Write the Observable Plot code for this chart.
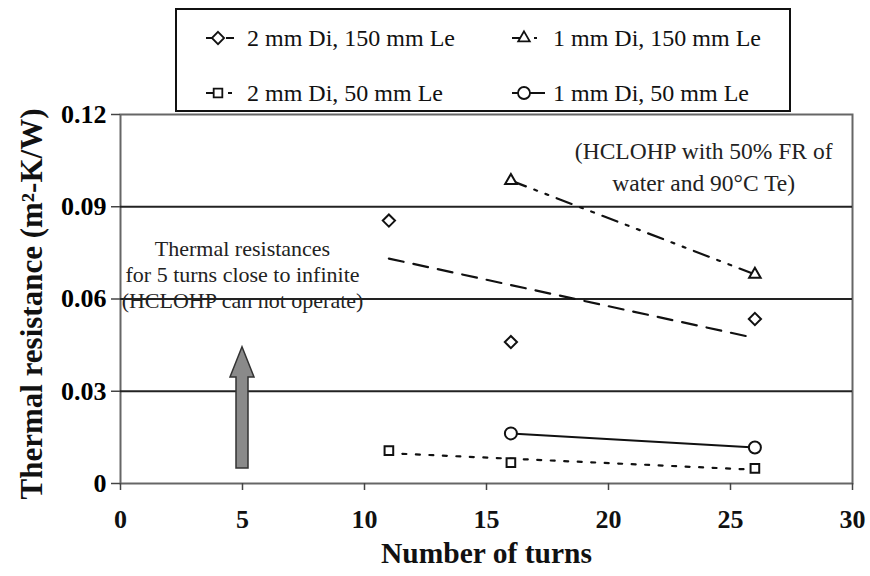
<!DOCTYPE html>
<html>
<head>
<meta charset="utf-8">
<script src="https://cdn.jsdelivr.net/npm/d3@7"></script>
<script src="https://cdn.jsdelivr.net/npm/@observablehq/plot@0.6"></script>
<style>
  html, body { margin: 0; padding: 0; background: #fff; }
  #wrap { position: relative; width: 870px; height: 576px; font-family: "Liberation Serif", "Times New Roman", serif; }
  #legend { position: absolute; left: 175px; top: 8px; width: 612px; height: 100px; border: 2px solid #111; background: #fff; }
  .item { position: absolute; display: flex; align-items: center; font-size: 24px; line-height: 28px; color: #111; white-space: nowrap; }
  .item svg { margin-right: 6px; }
</style>
</head>
<body>
<div id="wrap"><div id="legend"></div></div>
<script>
// ---- data ----
const seriesNames = ["2 mm Di, 150 mm Le", "1 mm Di, 150 mm Le", "2 mm Di, 50 mm Le", "1 mm Di, 50 mm Le"];
const turnsA = [11, 16, 26];          // 2 mm Di, 150 mm Le
const resA   = [0.0855, 0.046, 0.0535];
const turnsB = [16, 26];              // 1 mm Di, 150 mm Le
const resB   = [0.0985, 0.068];
const turnsC = [11, 16, 26];          // 2 mm Di, 50 mm Le
const resC   = [0.0107, 0.0068, 0.0049];
const turnsD = [16, 26];              // 1 mm Di, 50 mm Le
const resD   = [0.0163, 0.0117];
const xTicks = [0, 5, 10, 15, 20, 25, 30];
const yTicks = [0, 0.03, 0.06, 0.09, 0.12];
const yTickLabels = ["0", "0.03", "0.06", "0.09", "0.12"];
const gridValues = [0.03, 0.06, 0.09];
// annotations
const noteLeft = "Thermal resistances\nfor 5 turns close to infinite\n(HCLOHP can not operate)";
const noteLeftX = [5], noteLeftY = [0.0683];
const noteRight = "(HCLOHP with 50% FR of\nwater and 90°C Te)";
const noteRightX = [23.9], noteRightY = [0.1037];
const arrowX = [5], arrowFrom = [0.0049], arrowHeadBase = [0.0345], arrowTip = [0.0443];

const SERIF = "Liberation Serif";
const mk = (xs, ys, name) => xs.map((x, i) => ({x, y: ys[i], name}));
const dataA = mk(turnsA, resA, seriesNames[0]);
const dataB = mk(turnsB, resB, seriesNames[1]);
const dataC = mk(turnsC, resC, seriesNames[2]);
const dataD = mk(turnsD, resD, seriesNames[3]);

const styles = {
  A: {symbol: "diamond2", dash: "15,10", r: 5.5, tail: [21, 29]},
  B: {symbol: "triangle2", dash: "16,9,3,9,3,9", r: 5.5, tail: [23, 26]},
  C: {symbol: "square2", dash: "4,9.5", r: 5.5, tail: [23, 27]},
  D: {symbol: "circle", dash: null, r: 6, tail: [19, 34]}
};

const arrowMark = (index, scales) => {
  const x = scales.x(arrowX[0]);
  const yb = scales.y(arrowFrom[0]), yh = scales.y(arrowHeadBase[0]), yt = scales.y(arrowTip[0]);
  const sw = 6, hw = 12;
  const pts = [[x - sw, yb], [x - sw, yh], [x - hw, yh], [x, yt], [x + hw, yh], [x + sw, yh], [x + sw, yb]];
  return d3.create("svg:polygon")
    .attr("points", pts.map(p => p.join(",")).join(" "))
    .attr("fill", "#8a8a8a").attr("stroke", "#333").attr("stroke-width", 1.5).node();
};

const chart = Plot.plot({
  width: 870, height: 576,
  marginLeft: 120, marginRight: 18, marginTop: 114, marginBottom: 93,
  x: {domain: [0, 30]},
  y: {domain: [0, 0.12]},
  style: {fontFamily: SERIF, background: "transparent", overflow: "visible"},
  marks: [
    Plot.frame({stroke: "#666", strokeWidth: 2}),
    Plot.ruleY(gridValues, {stroke: "#222", strokeWidth: 2.2}),
    Plot.axisX({ticks: xTicks, tickSize: 7, tickPadding: 19, fontSize: 26, fontWeight: "bold", fontFamily: SERIF, label: null, stroke: "#444", strokeWidth: 1.5, color: "#111"}),
    Plot.axisY({ticks: yTicks, tickFormat: d => yTickLabels[yTicks.indexOf(d)], tickSize: 9, tickPadding: 5, fontSize: 26, fontWeight: "bold", fontFamily: SERIF, label: null, stroke: "#444", strokeWidth: 1.5}),
    Plot.text(["Number of turns"], {frameAnchor: "bottom", dy: 79, fontSize: 29.5, fontWeight: "bold", fontFamily: SERIF, fill: "#111"}),
    Plot.text(["Thermal resistance (m²-K/W)"], {frameAnchor: "left", textAnchor: "middle", dx: -88, dy: 5, rotate: -90, fontSize: 31, fontWeight: "bold", fontFamily: SERIF, fill: "#111"}),
    // trend lines
    Plot.linearRegressionY(dataA, {x: "x", y: "y", ci: 0, stroke: "#111", strokeWidth: 2.2, strokeDasharray: styles.A.dash}),
    Plot.linearRegressionY(dataC, {x: "x", y: "y", ci: 0, stroke: "#111", strokeWidth: 2.2, strokeDasharray: styles.C.dash}),
    Plot.line(dataB, {x: "x", y: "y", stroke: "#111", strokeWidth: 2.2, strokeDasharray: styles.B.dash}),
    Plot.line(dataD, {x: "x", y: "y", stroke: "#111", strokeWidth: 2}),
    // markers
    Plot.dot(dataA, {x: "x", y: "y", symbol: styles.A.symbol, r: styles.A.r, stroke: "#111", fill: "white", strokeWidth: 2}),
    Plot.dot(dataB, {x: "x", y: "y", symbol: styles.B.symbol, r: styles.B.r, stroke: "#111", fill: "white", strokeWidth: 2}),
    Plot.dot(dataC, {x: "x", y: "y", symbol: styles.C.symbol, r: styles.C.r, stroke: "#111", fill: "white", strokeWidth: 2}),
    Plot.dot(dataD, {x: "x", y: "y", symbol: styles.D.symbol, r: styles.D.r, stroke: "#111", fill: "white", strokeWidth: 2}),
    // annotations
    arrowMark,
    Plot.text([noteLeft], {x: () => noteLeftX[0], y: () => noteLeftY[0], fontSize: 22, fontFamily: SERIF, lineHeight: 1.2, fill: "#222"}),
    Plot.text([noteRight], {x: () => noteRightX[0], y: () => noteRightY[0], fontSize: 23.5, fontFamily: SERIF, lineHeight: 1.36, fill: "#222"})
  ]
});
document.getElementById("wrap").prepend(chart);

// ---- legend ----
const legend = d3.select("#legend");
const symType = {diamond2: d3.symbolDiamond2, triangle2: d3.symbolTriangle2, square2: d3.symbolSquare2, circle: d3.symbolCircle};
const items = [
  {name: seriesNames[0], s: styles.A, left: 28, top: 14},
  {name: seriesNames[1], s: styles.B, left: 334, top: 14},
  {name: seriesNames[2], s: styles.C, left: 28, top: 69},
  {name: seriesNames[3], s: styles.D, left: 334, top: 69}
];
items.forEach(it => {
  const div = legend.append("div").attr("class", "item").style("left", it.left + "px").style("top", it.top + "px");
  const svg = div.append("svg").attr("width", 36).attr("height", 24);
  svg.append("line").attr("x1", 1).attr("x2", 9).attr("y1", 12).attr("y2", 12)
    .attr("stroke", "#111").attr("stroke-width", 2);
  svg.append("line").attr("x1", it.s.tail[0]).attr("x2", it.s.tail[1]).attr("y1", 12).attr("y2", 12)
    .attr("stroke", "#111").attr("stroke-width", 2);
  svg.append("path").attr("transform", "translate(13,12)")
    .attr("d", d3.symbol(symType[it.s.symbol], Math.PI * it.s.r * it.s.r)())
    .attr("fill", "white").attr("stroke", "#111").attr("stroke-width", 1.8);
  div.append("span").text(it.name);
});
</script>
</body>
</html>
